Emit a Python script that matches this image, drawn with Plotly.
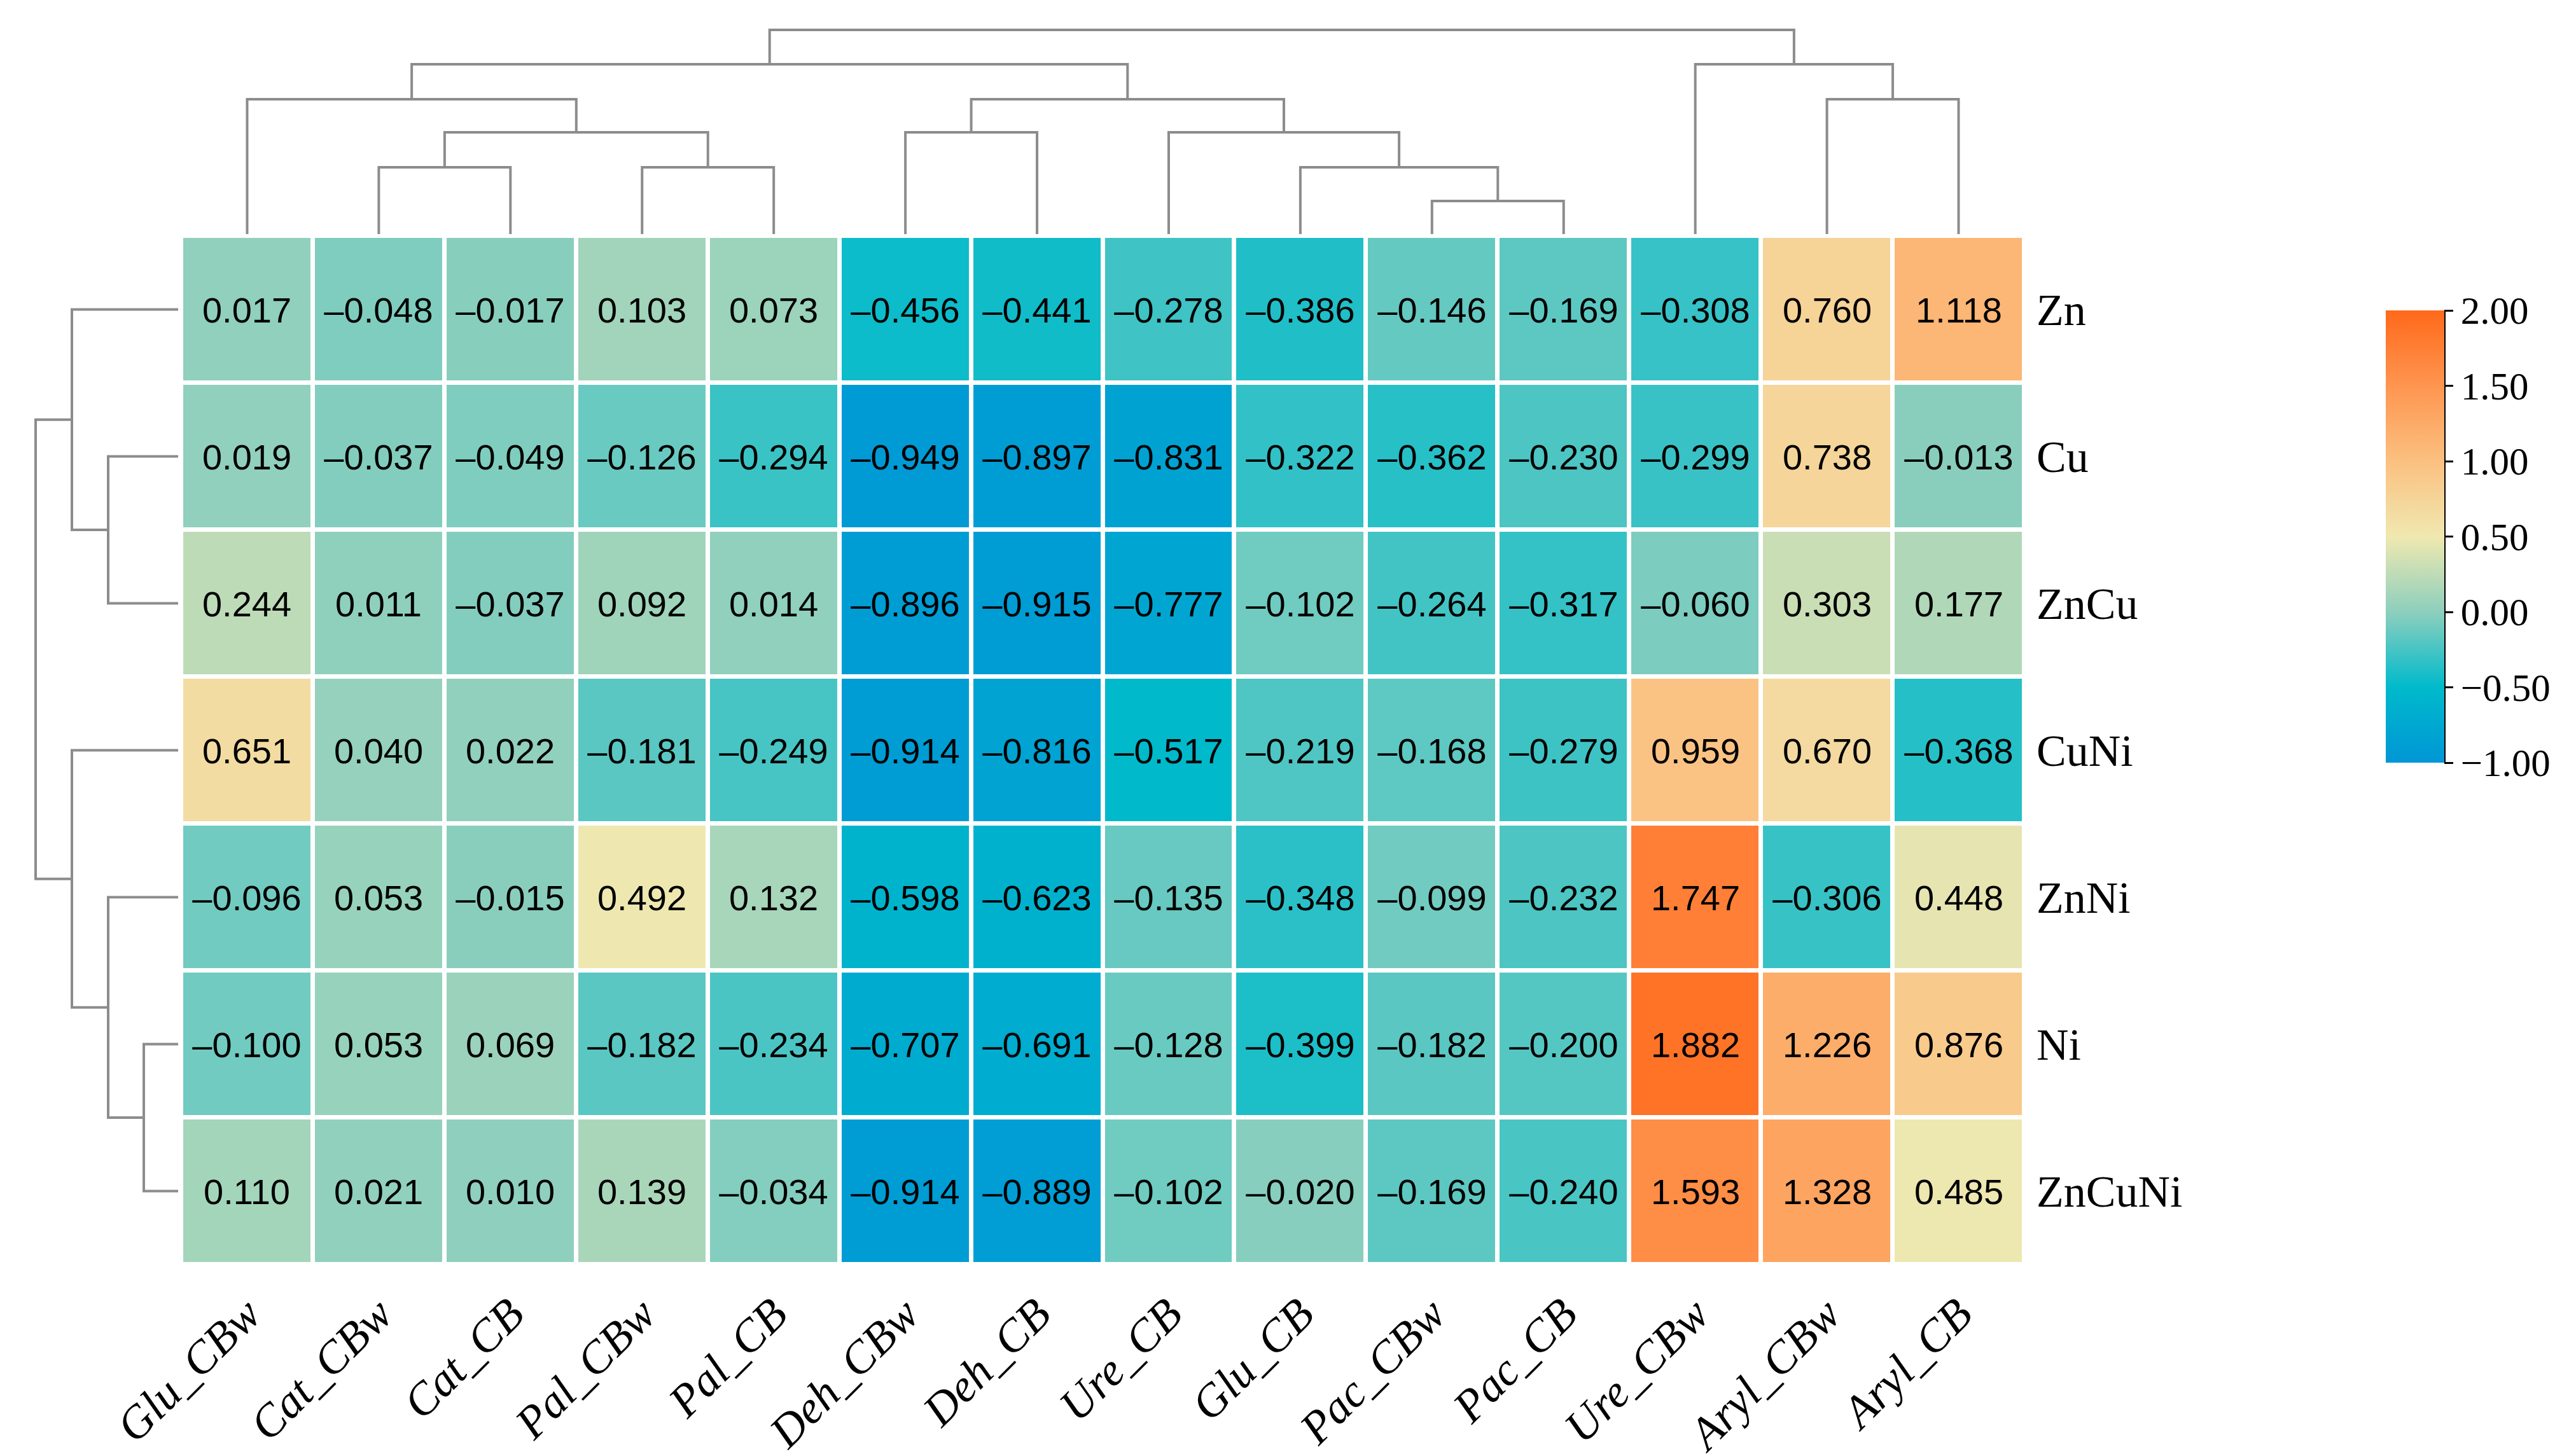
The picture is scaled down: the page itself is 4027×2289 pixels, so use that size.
import plotly.graph_objects as go

# columns / rows in display (clustered) order
columns = ["Glu_CBw", "Cat_CBw", "Cat_CB", "Pal_CBw", "Pal_CB", "Deh_CBw", "Deh_CB",
           "Ure_CB", "Glu_CB", "Pac_CBw", "Pac_CB", "Ure_CBw", "Aryl_CBw", "Aryl_CB"]
rows = ["Zn", "Cu", "ZnCu", "CuNi", "ZnNi", "Ni", "ZnCuNi"]

zn = [0.017, -0.048, -0.017, 0.103, 0.073, -0.456, -0.441, -0.278, -0.386, -0.146, -0.169, -0.308, 0.760, 1.118]
cu = [0.019, -0.037, -0.049, -0.126, -0.294, -0.949, -0.897, -0.831, -0.322, -0.362, -0.230, -0.299, 0.738, -0.013]
zncu = [0.244, 0.011, -0.037, 0.092, 0.014, -0.896, -0.915, -0.777, -0.102, -0.264, -0.317, -0.060, 0.303, 0.177]
cuni = [0.651, 0.040, 0.022, -0.181, -0.249, -0.914, -0.816, -0.517, -0.219, -0.168, -0.279, 0.959, 0.670, -0.368]
znni = [-0.096, 0.053, -0.015, 0.492, 0.132, -0.598, -0.623, -0.135, -0.348, -0.099, -0.232, 1.747, -0.306, 0.448]
ni = [-0.100, 0.053, 0.069, -0.182, -0.234, -0.707, -0.691, -0.128, -0.399, -0.182, -0.200, 1.882, 1.226, 0.876]
zncuni = [0.110, 0.021, 0.010, 0.139, -0.034, -0.914, -0.889, -0.102, -0.020, -0.169, -0.240, 1.593, 1.328, 0.485]

# linkage: (left, right, height); leaves are display indices, new clusters get n, n+1, ...
col_links = [(9, 10, 52), (8, 14, 105), (1, 2, 105), (3, 4, 105), (7, 15, 160),
             (5, 6, 160), (16, 17, 160), (12, 13, 212), (19, 18, 212), (0, 20, 212),
             (23, 22, 267), (11, 21, 267), (24, 25, 321)]
row_links = [(5, 6, 54), (1, 2, 110), (4, 7, 110), (0, 8, 167), (3, 9, 167), (10, 11, 224)]

cbar_ticks = [-1.0, -0.5, 0.0, 0.5, 1.0, 1.5, 2.0]

z = [zn, cu, zncu, cuni, znni, ni, zncuni]
text = [[f"{v:.3f}".replace("-", "\u2013") for v in r] for r in z]

colorscale = [[0.0, "#0096D6"], [1/6, "#00BACB"], [2/6, "#8DCFBD"], [3/6, "#F0E8B0"],
              [4/6, "#FBC080"], [5/6, "#FE9550"], [1.0, "#FF691A"]]


def dendro_segments(links, n_leaves):
    pos = {i: float(i) for i in range(n_leaves)}
    hgt = {i: 0.0 for i in range(n_leaves)}
    a, b = [], []
    for k, (l, r, h) in enumerate(links):
        a += [pos[l], pos[l], pos[r], pos[r], None]
        b += [hgt[l], h, h, hgt[r], None]
        pos[n_leaves + k] = (pos[l] + pos[r]) / 2
        hgt[n_leaves + k] = h
    return a, b


W, H = 4027, 2289
line_style = dict(color="#8C8C8C", width=4)
cb_left, cb_w = 3742, 92

fig = go.Figure()

fig.add_trace(go.Heatmap(
    z=z, x=list(range(len(columns))), y=list(range(len(rows))),
    text=text, texttemplate="%{text}",
    textfont=dict(family="Liberation Sans", size=56, color="black"),
    colorscale=colorscale, zmin=-1, zmax=2, xgap=7, ygap=7, hoverinfo="skip",
    colorbar=dict(x=cb_left / W, xanchor="left", y=1 - 835.5 / H, yanchor="middle",
                  xpad=0, ypad=0,
                  len=711, lenmode="pixels", thickness=cb_w, outlinewidth=0,
                  tickvals=cbar_ticks, tickformat=".2f", ticks="outside",
                  ticklen=14, tickwidth=3, tickcolor="black",
                  tickfont=dict(family="Liberation Serif", size=61, color="black")),
))

cx, cy = dendro_segments(col_links, len(columns))
fig.add_trace(go.Scatter(x=cx, y=cy, mode="lines", line=line_style,
                         xaxis="x2", yaxis="y2", hoverinfo="skip", showlegend=False))

ry, rx = dendro_segments(row_links, len(rows))
fig.add_trace(go.Scatter(x=rx, y=ry, mode="lines", line=line_style,
                         xaxis="x3", yaxis="y3", hoverinfo="skip", showlegend=False))

hm_x = [277 / W, 3174 / W]
hm_y = [1 - 1980 / H, 1 - 363 / H]
hidden = dict(visible=False, showgrid=False, zeroline=False, automargin=False)

fig.update_layout(
    width=W, height=H, autosize=False,
    margin=dict(l=0, r=0, t=0, b=0, autoexpand=False),
    paper_bgcolor="white", plot_bgcolor="white",
    xaxis=dict(domain=hm_x, range=[-0.5, 13.5], tickvals=list(range(len(columns))),
               ticktext=columns, tickangle=-45, ticks="", showgrid=False, zeroline=False,
               showline=False, ticklabelstandoff=20, automargin=False,
               tickfont=dict(family="Liberation Serif", size=72, color="black", style="italic")),
    yaxis=dict(domain=hm_y, range=[6.5, -0.5], tickvals=list(range(len(rows))),
               ticktext=rows, side="right", ticks="", showgrid=False, zeroline=False,
               showline=False, ticklabelstandoff=18, automargin=False,
               tickfont=dict(family="Liberation Serif", size=70, color="black")),
    xaxis2=dict(domain=hm_x, range=[-0.5, 13.5], anchor="y2", **hidden),
    yaxis2=dict(domain=[1 - 360 / H, 1 - 30 / H], range=[0, 330], anchor="x2", **hidden),
    xaxis3=dict(domain=[40 / W, 272 / W], range=[232, 0], anchor="y3", **hidden),
    yaxis3=dict(domain=hm_y, range=[6.5, -0.5], anchor="x3", **hidden),
    shapes=[dict(type="line", xref="paper", yref="paper",
                 x0=(cb_left + cb_w) / W, x1=(cb_left + cb_w) / W,
                 y0=1 - 480 / H, y1=1 - 1191 / H,
                 line=dict(color="black", width=4))],
)

fig.write_html("out.html")
